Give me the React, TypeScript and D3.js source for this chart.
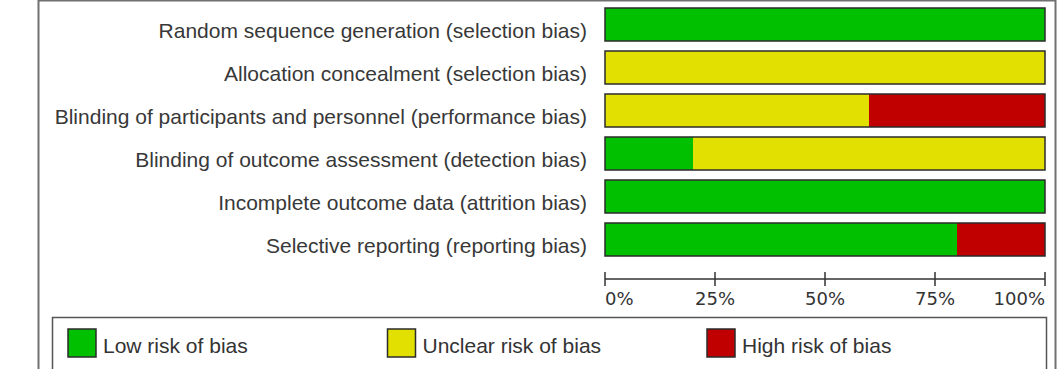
import React from 'react';
import * as d3 from 'd3';

// risk-of-bias domains and the share of studies (in %) judged at each level
const domains = [
  'Random sequence generation (selection bias)',
  'Allocation concealment (selection bias)',
  'Blinding of participants and personnel (performance bias)',
  'Blinding of outcome assessment (detection bias)',
  'Incomplete outcome data (attrition bias)',
  'Selective reporting (reporting bias)',
];
const lowRisk = [100, 0, 0, 20, 100, 80];
const unclearRisk = [0, 100, 60, 80, 0, 0];
const highRisk = [0, 0, 40, 0, 0, 20];

const tickValues = [0, 25, 50, 75, 100];
const legendLabels = ['Low risk of bias', 'Unclear risk of bias', 'High risk of bias'];
const levelKeys = ['low', 'unclear', 'high'];
const levelColors = ['#00c000', '#e1e000', '#c00000'];

const W = 1064;
const H = 369;
const labelFont = '"Liberation Sans", Arial, sans-serif';
const tickFont = '"DejaVu Sans", Verdana, sans-serif';

export default function App() {
  const table = domains.map((d, i) => ({
    domain: d,
    low: lowRisk[i],
    unclear: unclearRisk[i],
    high: highRisk[i],
  }));
  const stack = d3.stack<any>().keys(levelKeys)(table);

  const x = d3.scaleLinear().domain([0, 100]).range([605, 1045]);
  const y = d3
    .scaleBand()
    .domain(domains)
    .range([8, 256])
    .paddingInner(10 / 43)
    .paddingOuter(0);
  const color = d3.scaleOrdinal<string, string>().domain(levelKeys).range(levelColors);
  const legendX = d3.scaleBand().domain(legendLabels).range([68, 68 + 3 * 319.5]);

  const axisY = 279;
  const bw = y.bandwidth();

  return (
    <svg
      width={W}
      height={H}
      style={{ position: 'absolute', left: 0, top: 0, display: 'block', background: '#fff' }}
    >
      {/* outer frame */}
      <rect x={38.5} y={0.5} width={1017} height={H + 10} fill="none" stroke="#707070" strokeWidth={2} />

      {/* row labels */}
      {domains.map(d => (
        <text
          key={d}
          x={587}
          y={(y(d) as number) + bw / 2 + 13}
          textAnchor="end"
          fontFamily={labelFont}
          fontSize={21}
          fill="#383838"
        >
          {d}
        </text>
      ))}

      {/* stacked segments */}
      {stack.map(layer => (
        <g key={layer.key} fill={color(layer.key)}>
          {layer.map((seg, i) =>
            seg[1] - seg[0] > 0 ? (
              <rect
                key={i}
                x={x(seg[0])}
                y={y(domains[i])}
                width={x(seg[1]) - x(seg[0])}
                height={bw}
              />
            ) : null
          )}
        </g>
      ))}

      {/* bar outlines */}
      {domains.map(d => (
        <rect
          key={d}
          x={x(0)}
          y={y(d)}
          width={x(100) - x(0)}
          height={bw}
          fill="none"
          stroke="#2b2b2b"
          strokeWidth={1.5}
        />
      ))}

      {/* percentage axis */}
      <g stroke="#333" strokeWidth={1.5}>
        <line x1={x(0)} x2={x(100)} y1={axisY} y2={axisY} />
        {tickValues.map(t => (
          <line key={t} x1={x(t)} x2={x(t)} y1={axisY - 7} y2={axisY + 7} />
        ))}
      </g>
      {tickValues.map((t, i) => (
        <text
          key={t}
          x={x(t)}
          y={305}
          textAnchor={i === 0 ? 'start' : i === tickValues.length - 1 ? 'end' : 'middle'}
          fontFamily={tickFont}
          fontSize={18}
          fill="#333"
        >
          {t}%
        </text>
      ))}

      {/* legend */}
      <rect x={52.5} y={317.5} width={994} height={H} fill="none" stroke="#555" strokeWidth={1.5} />
      {legendLabels.map((l, i) => (
        <g key={l} transform={`translate(${legendX(l)},0)`}>
          <rect x={0} y={329} width={28} height={28} fill={levelColors[i]} stroke="#2b2b2b" strokeWidth={1.5} />
          <text x={35} y={353} fontFamily={labelFont} fontSize={21} fill="#333">
            {l}
          </text>
        </g>
      ))}
    </svg>
  );
}
